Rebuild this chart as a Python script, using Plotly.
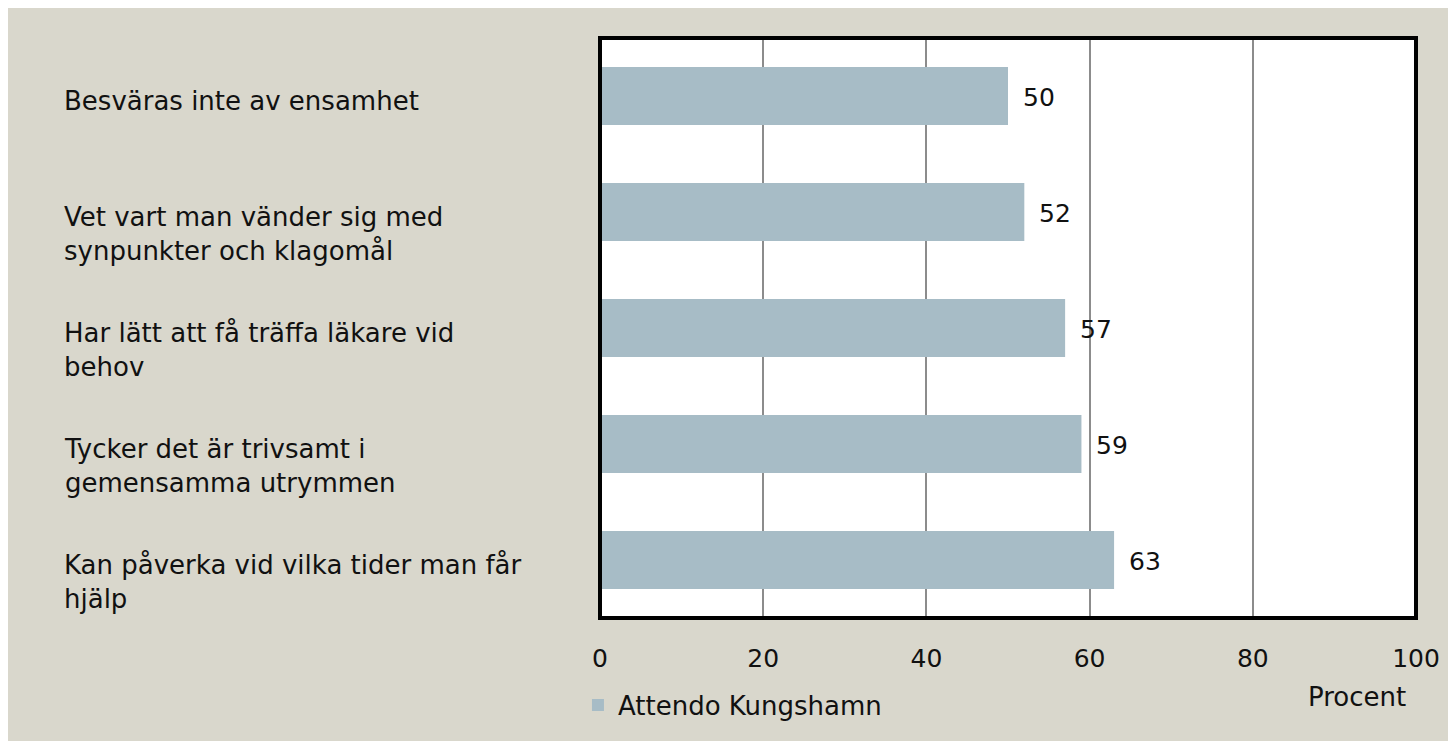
import plotly.graph_objects as go

categories = [
    "Besväras inte av ensamhet",
    "Vet vart man vänder sig med<br>synpunkter och klagomål",
    "Har lätt att få träffa läkare vid<br>behov",
    "Tycker det är trivsamt i<br>gemensamma utrymmen",
    "Kan påverka vid vilka tider man får<br>hjälp",
]
values = [50, 52, 57, 59, 63]
series_name = "Attendo Kungshamn"
x_ticks = [0, 20, 40, 60, 80, 100]

FONT = "DejaVu Sans"
BG = "#d9d7cc"
BAR = "#a7bcc6"
TXT = "#111"
TS = 26   # text size
NS = 25   # number size

fig = go.Figure()
fig.add_trace(go.Bar(
    y=list(range(len(categories))),
    x=values,
    orientation="h",
    name=series_name,
    marker=dict(color=BAR, line=dict(width=0)),
    showlegend=True,
))

annotations = []
for i, c in enumerate(categories):
    annotations.append(dict(
        x=-0.659, xref="paper", y=i, yref="y",
        text=c, showarrow=False, xanchor="left", yanchor="top",
        align="left", yshift=12,
        font=dict(family=FONT, size=TS, color=TXT),
    ))
for i, v in enumerate(values):
    annotations.append(dict(
        x=v, xref="x", y=i, yref="y",
        text=str(v), showarrow=False, xanchor="left", yanchor="middle",
        xshift=13, yshift=-1,
        font=dict(family=FONT, size=NS, color=TXT),
    ))
annotations.append(dict(
    x=0.928, xref="paper", y=-0.136, yref="paper",
    text="Procent", showarrow=False, xanchor="center", yanchor="middle",
    font=dict(family=FONT, size=TS, color=TXT),
))

fig.update_layout(
    width=1448, height=733,
    margin=dict(l=592, r=40, t=30, b=123),
    paper_bgcolor=BG, plot_bgcolor="white",
    bargap=0.5,
    font=dict(family=FONT, size=TS, color=TXT),
    xaxis=dict(
        range=[0, 100], tickvals=x_ticks, ticktext=[str(t) for t in x_ticks],
        showgrid=True, gridcolor="#8c8c8c", gridwidth=2,
        zeroline=False, showline=False,
        ticks="outside", ticklen=18, tickcolor="rgba(0,0,0,0)",
        tickfont=dict(family=FONT, size=NS, color=TXT),
    ),
    yaxis=dict(
        range=[4.5, -0.5], showticklabels=False, showgrid=False,
        zeroline=False, showline=False,
    ),
    legend=dict(
        x=-0.027, y=-0.15, xanchor="left", yanchor="middle",
        font=dict(family=FONT, size=TS, color=TXT),
        bgcolor="rgba(0,0,0,0)",
    ),
    annotations=annotations,
    shapes=[dict(type="rect", xref="paper", yref="paper", x0=0, x1=1, y0=0, y1=1,
                 line=dict(color="black", width=4), layer="above")],
)

fig.write_html("out.html")
